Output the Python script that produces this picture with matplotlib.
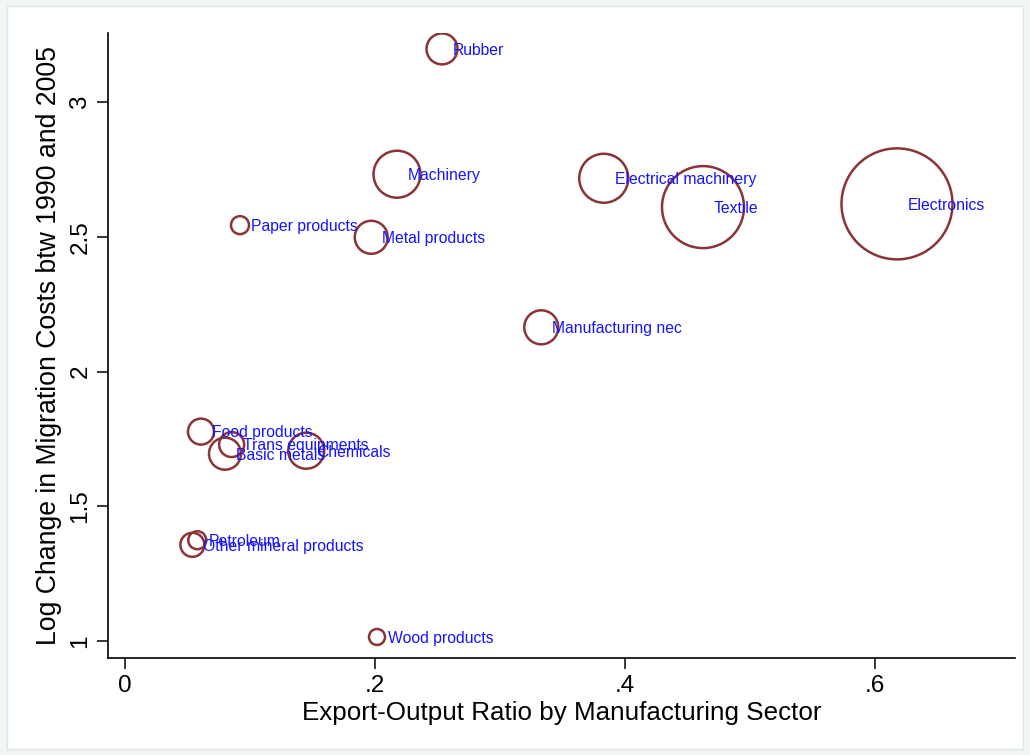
import numpy as np
import matplotlib
matplotlib.use("Agg")
import matplotlib.pyplot as plt
from matplotlib.patches import Rectangle

plt.rcParams['font.family'] = ['Liberation Sans', 'DejaVu Sans']

sectors = ["Rubber", "Machinery", "Electrical machinery", "Textile", "Electronics",
           "Paper products", "Metal products", "Manufacturing nec", "Food products",
           "Trans equipments", "Basic metals", "Chemicals", "Petroleum",
           "Other mineral products", "Wood products"]
export_ratio = [0.2536, 0.2176, 0.383, 0.4624, 0.6176,
                0.092, 0.197, 0.333, 0.0608,
                0.0853, 0.080, 0.145, 0.0578,
                0.0539, 0.2016]
log_change = [3.197, 2.732, 2.717, 2.610, 2.622,
              2.543, 2.498, 2.164, 1.777,
              1.729, 1.695, 1.706, 1.374,
              1.357, 1.015]
# bubble weights (area scale)
weight = [24.0, 55.2, 60.0, 168.1, 308.0,
          8.1, 27.2, 28.9, 16.9,
          15.6, 25.6, 32.4, 8.1,
          14.4, 6.4]

fig = plt.figure(figsize=(10.3, 7.55), dpi=100)
fig.patch.set_facecolor("#f1f5f5")
fig.patches.append(Rectangle((7 / 1030, 6 / 755), 1016 / 1030, 743 / 755,
                             transform=fig.transFigure, facecolor="white",
                             edgecolor="#dde5e6", lw=1.0, zorder=-5))

ax = fig.add_axes([108 / 1030, 1 - 658 / 755, 907 / 1030, 625 / 755])
ax.set_facecolor("none")
ax.set_zorder(2)

sizes = np.array(weight) * 10 * (2 * 0.72) ** 2
ax.scatter(export_ratio, log_change, s=sizes, facecolors="none",
           edgecolors="#8a3437", linewidths=1.8, zorder=2)

for name, x, y in zip(sectors, export_ratio, log_change):
    ax.annotate(name, (x, y), xytext=(8, -1), textcoords="offset points",
                ha="left", va="center", fontsize=11.3, color="#1414ff", zorder=3)

ax.set_xlim(-0.0136, 0.712)
ax.set_ylim(0.937, 3.256)
ax.set_xticks([0, 0.2, 0.4, 0.6])
ax.set_xticklabels(["0", ".2", ".4", ".6"])
ax.set_yticks([1, 1.5, 2, 2.5, 3])
ax.set_yticklabels(["1", "1.5", "2", "2.5", "3"], rotation=90, va="center")

for side in ["top", "right"]:
    ax.spines[side].set_visible(False)
for side in ["left", "bottom"]:
    ax.spines[side].set_linewidth(1.2)
ax.tick_params(axis="both", direction="out", length=8, width=1.1,
               labelsize=17.5, pad=4)

ax.set_xlabel("Export-Output Ratio by Manufacturing Sector", fontsize=18.7, labelpad=3)
ax.set_ylabel("Log Change in Migration Costs btw 1990 and 2005", fontsize=19.2, labelpad=5)

fig.savefig("out.png", dpi=100, facecolor=fig.get_facecolor())
